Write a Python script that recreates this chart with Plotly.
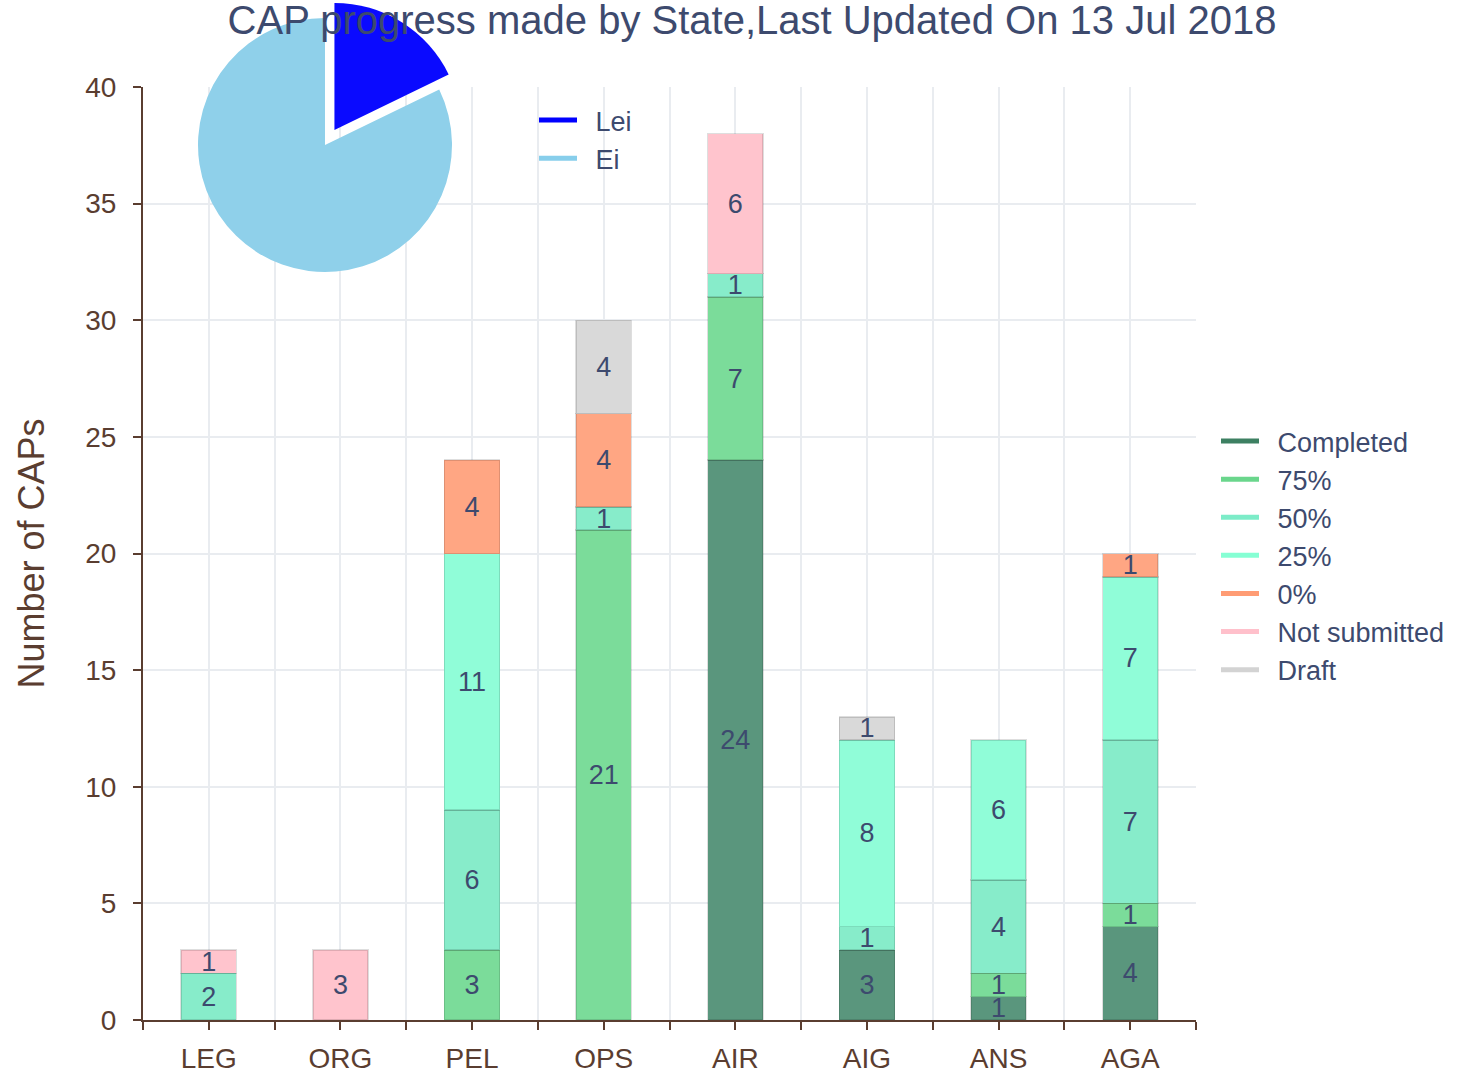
import plotly.graph_objects as go
import numpy as np

# ---- data ----
categories = ["LEG", "ORG", "PEL", "OPS", "AIR", "AIG", "ANS", "AGA"]
series_names = ["Completed", "75%", "50%", "25%", "0%", "Not submitted", "Draft"]
completed     = [0, 0, 0, 0, 24, 3, 1, 4]
pct75         = [0, 0, 3, 21, 7, 0, 1, 1]
pct50         = [2, 0, 6, 1, 1, 1, 4, 7]
pct25         = [0, 0, 11, 0, 0, 8, 6, 7]
pct0          = [0, 0, 4, 4, 0, 0, 0, 1]
not_submitted = [1, 3, 0, 0, 6, 0, 0, 0]
draft         = [0, 0, 0, 4, 0, 1, 0, 0]
series_values = [completed, pct75, pct50, pct25, pct0, not_submitted, draft]

pie_labels = ["Lei", "Ei"]
pie_values = [17.8, 82.2]

y_ticks = [0, 5, 10, 15, 20, 25, 30, 35, 40]

# ---- styles ----
fills = ["#5a967d", "#7bdc9a", "#87ecca", "#90fdd8", "#ffa683", "#ffc4cd", "#d9d9d9"]
legend_cols = ["#3d8062", "#6ad68c", "#7cecc8", "#86ffd4", "#ff9c74", "#ffc0cb", "#d3d3d3"]
pie_colors = ["#0a0aff", "#8fd0ea"]
pie_legend_cols = ["#0000ff", "#87ceeb"]
FONT = "Liberation Sans, Arial, sans-serif"
brown = "#5a3d30"
navy = "#3d4a6e"
GAP = "\u2002"  # spacing between legend symbol and label

W, H = 1478, 1074
L, R, T, B = 143, 282, 0, 54
plot_w = W - L - R
plot_h = H - T - B
y_top_px = 87

fig = go.Figure()

x_idx = np.arange(len(categories))
for name, vals, col, lcol in zip(series_names, series_values, fills, legend_cols):
    yv = [v if v else None for v in vals]
    fig.add_trace(go.Bar(
        x=x_idx, y=yv, name=name, width=0.42,
        marker=dict(color=col, line=dict(color="rgba(0,0,0,0.13)", width=1.5)),
        texttemplate="%{y}", textposition="inside", insidetextanchor="middle",
        textangle=0, constraintext="none",
        textfont=dict(family=FONT, size=27, color=navy),
        showlegend=False,
    ))
    fig.add_trace(go.Scatter(
        x=[None], y=[None], mode="lines", name=GAP + name,
        line=dict(color=lcol, width=5), legend="legend",
    ))

pie_cx, pie_cy, pie_r, pull = 325, 145, 127, 0.14
half = pie_r * (1 + pull)
dx0 = (pie_cx - half - L) / plot_w
dx1 = (pie_cx + half - L) / plot_w
dy1 = min(1.0, 1 - (pie_cy - half - T) / plot_h)
dy0 = 1 - (pie_cy + half - T) / plot_h
fig.add_trace(go.Pie(
    labels=pie_labels, values=pie_values, sort=False, direction="clockwise",
    rotation=0, pull=[pull, 0], textinfo="none", hoverinfo="label+value",
    marker=dict(colors=pie_colors, line=dict(width=0)),
    domain=dict(x=[dx0, dx1], y=[dy0, dy1]), showlegend=False,
))
for lab, col in zip(pie_labels, pie_legend_cols):
    fig.add_trace(go.Scatter(
        x=[None], y=[None], mode="lines", name=GAP + lab,
        line=dict(color=col, width=5), legend="legend2",
    ))

tickvals = list(np.arange(-0.5, len(categories), 0.5))
ticktext = [categories[int(v)] if float(v).is_integer() else "" for v in tickvals]

fig.update_layout(
    width=W, height=H, barmode="stack",
    margin=dict(l=L, r=R, t=T, b=B, pad=0, autoexpand=False),
    paper_bgcolor="white", plot_bgcolor="white",
    font=dict(family=FONT, color=brown),
    title=dict(text="CAP progress made by State,Last Updated On 13 Jul 2018",
               x=752 / W, xanchor="center", y=1 - 20 / H, yanchor="middle",
               font=dict(family=FONT, size=40, color=navy)),
    xaxis=dict(range=[-0.5, len(categories) - 0.5], tickmode="array",
               tickvals=tickvals, ticktext=ticktext,
               showgrid=True, gridcolor="#e9ecf0", gridwidth=2,
               showline=True, linecolor=brown, linewidth=2,
               ticks="outside", ticklen=8, tickwidth=2, tickcolor=brown,
               ticklabelstandoff=4,
               tickfont=dict(family=FONT, size=28, color=brown),
               zeroline=False, fixedrange=True),
    yaxis=dict(range=[0, 40], domain=[0, 1 - (y_top_px - T) / plot_h],
               tickmode="array", tickvals=y_ticks,
               showgrid=True, gridcolor="#e9ecf0", gridwidth=2,
               showline=True, linecolor=brown, linewidth=2,
               ticks="outside", ticklen=8, tickwidth=2, tickcolor=brown,
               ticklabelstandoff=11,
               tickfont=dict(family=FONT, size=28, color=brown),
               title=dict(text="Number of CAPs", standoff=30,
                          font=dict(family=FONT, size=36, color=brown)),
               zeroline=False, fixedrange=True),
    legend=dict(x=(1216 - L) / plot_w, xanchor="left",
                y=1 - (417 - T) / plot_h, yanchor="top",
                traceorder="normal",
                font=dict(family=FONT, size=27, color=navy),
                bgcolor="rgba(0,0,0,0)", itemwidth=38, tracegroupgap=0),
    legend2=dict(x=(534 - L) / plot_w, xanchor="left",
                 y=1 - (96 - T) / plot_h, yanchor="top",
                 traceorder="normal",
                 font=dict(family=FONT, size=27, color=navy),
                 bgcolor="rgba(0,0,0,0)", itemwidth=38),
)

fig.write_html("out.html", config={"displayModeBar": False},
               post_script="document.body.style.margin='0';")
